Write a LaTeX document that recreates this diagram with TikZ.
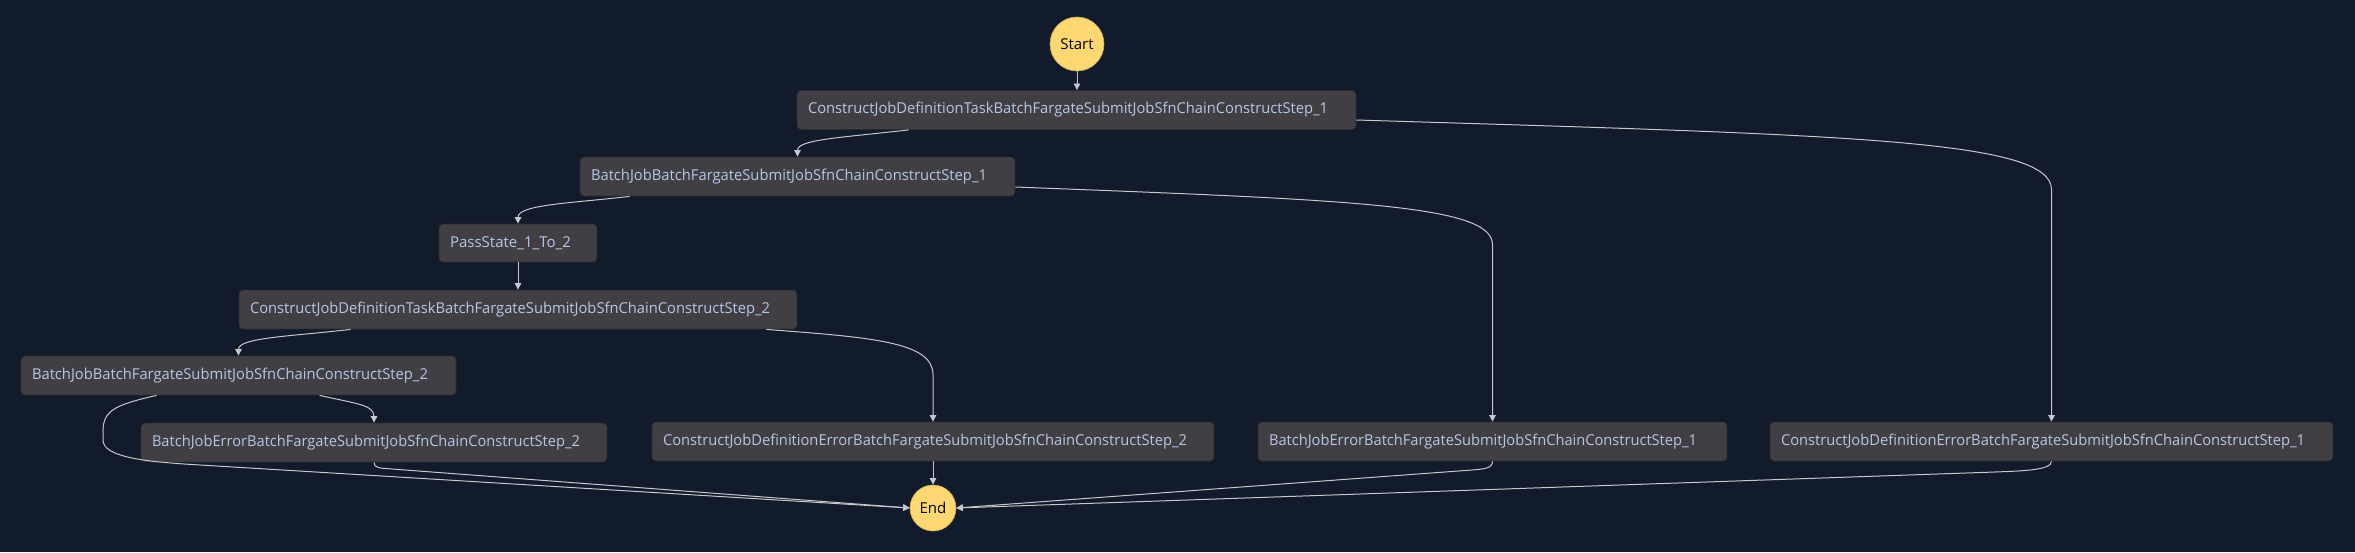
\documentclass[tikz,border=0pt]{standalone}
\usepackage{fontspec}
\setmainfont{Open Sans}
\usepackage{graphicx}
\usetikzlibrary{arrows.meta}
\definecolor{bg}{HTML}{111B2B}
\definecolor{nodefill}{HTML}{423F44}
\definecolor{nodeborder}{HTML}{2A292F}
\definecolor{txt}{HTML}{B4C7E8}
\definecolor{edgecol}{HTML}{C8C8CC}
\definecolor{ystart}{HTML}{FFD872}
\newcommand{\lbl}[3]{\makebox[#1pt][l]{\resizebox{#2pt}{\height}{#3}}}
\begin{document}
\begin{tikzpicture}[x=1pt,y=-1pt,
 state/.style={draw=nodeborder, line width=0.8pt, fill=nodefill, rounded corners=4pt,
   minimum height=39pt, inner sep=0pt, text=txt, font=\fontsize{15}{18}\selectfont},
 term/.style={circle, fill=ystart, draw=ystart!80!black, line width=0.6pt, inner sep=0pt,
   text=black, font=\fontsize{15}{18}\selectfont},
 flow/.style={draw=edgecol, line width=1pt, -{Triangle[width=6.5pt,length=6.5pt]}},
]
\fill[bg] (0,0) rectangle (2355,552);
\useasboundingbox (0,0) rectangle (2355,552);

\node[term, minimum size=54pt] (start) at (1077,44) {Start};
\node[term, minimum size=46pt] (end) at (933,508) {End};

\node[state, minimum width=559pt] (n1) at (1076.5,110)
  {\lbl{537}{520}{ConstructJobDefinitionTaskBatchFargateSubmitJobSfnChainConstructStep\_1}};
\node[state, minimum width=435pt] (n2) at (797.5,176.5)
  {\lbl{413}{396}{BatchJobBatchFargateSubmitJobSfnChainConstructStep\_1}};
\node[state, minimum width=158pt, minimum height=38pt] (n3) at (518,243)
  {\lbl{136}{121}{PassState\_1\_To\_2}};
\node[state, minimum width=558pt] (n4) at (518,309.5)
  {\lbl{536}{520}{ConstructJobDefinitionTaskBatchFargateSubmitJobSfnChainConstructStep\_2}};
\node[state, minimum width=435pt] (n5) at (238.5,375.5)
  {\lbl{413}{396}{BatchJobBatchFargateSubmitJobSfnChainConstructStep\_2}};
\node[state, minimum width=466pt] (n6) at (374,442.5)
  {\lbl{444}{428}{BatchJobErrorBatchFargateSubmitJobSfnChainConstructStep\_2}};
\node[state, minimum width=562pt] (n7) at (933,441.5)
  {\lbl{540}{524}{ConstructJobDefinitionErrorBatchFargateSubmitJobSfnChainConstructStep\_2}};
\node[state, minimum width=469pt] (n8) at (1492.5,441.5)
  {\lbl{447}{428}{BatchJobErrorBatchFargateSubmitJobSfnChainConstructStep\_1}};
\node[state, minimum width=563pt] (n9) at (2051.5,441.5)
  {\lbl{541}{524}{ConstructJobDefinitionErrorBatchFargateSubmitJobSfnChainConstructStep\_1}};

% edges
\draw[flow] (start.south) -- (start.south |- n1.north);
\draw[flow] ([xshift=112pt]n1.south west) .. controls +(-70,8) and +(0,-17) .. (n2.north);
\draw[flow] ([shift={(0,10)}]n1.east) .. controls +(493,15) and +(0,-50) .. ([shift={(0,-232)}]n9.north) -- (n9.north);
\draw[flow] ([xshift=50pt]n2.south west) .. controls +(-60,7) and +(0,-19) .. (n3.north);
\draw[flow] ([shift={(0,10.5)}]n2.east) .. controls +(335,13) and +(0,-40) .. ([shift={(0,-177)}]n8.north) -- (n8.north);
\draw[flow] (n3.south) -- (n4.north);
\draw[flow] ([xshift=112pt]n4.south west) .. controls +(-60,7) and +(0,-18) .. (n5.north);
\draw[flow] ([xshift=-31pt]n4.south east) .. controls +(104,8) and +(0,-33) .. ([shift={(0,-47)}]n7.north) -- (n7.north);
\draw[flow] ([xshift=299pt]n5.south west) .. controls +(35,8) and +(0,-18) .. (n6.north);
\draw[flow] ([xshift=136pt]n5.south west) .. controls +(-45,10) and +(0,-20) .. (103,432) -- (103,440)
  .. controls (103,458) and (150,462) .. (200,465) -- (end.west);
\draw[flow] (n6.south) .. controls +(0,6) and +(-12,-1) .. (392,469) -- (end.west);
\draw[flow] (n7.south) -- (end.north);
\draw[flow] (n8.south) .. controls +(0,7) and +(12,-1) .. (1472,470) -- (end.east);
\draw[flow] (n9.south) .. controls +(0,9) and +(25,-1) .. (1995,472) -- (end.east);
\end{tikzpicture}
\end{document}
